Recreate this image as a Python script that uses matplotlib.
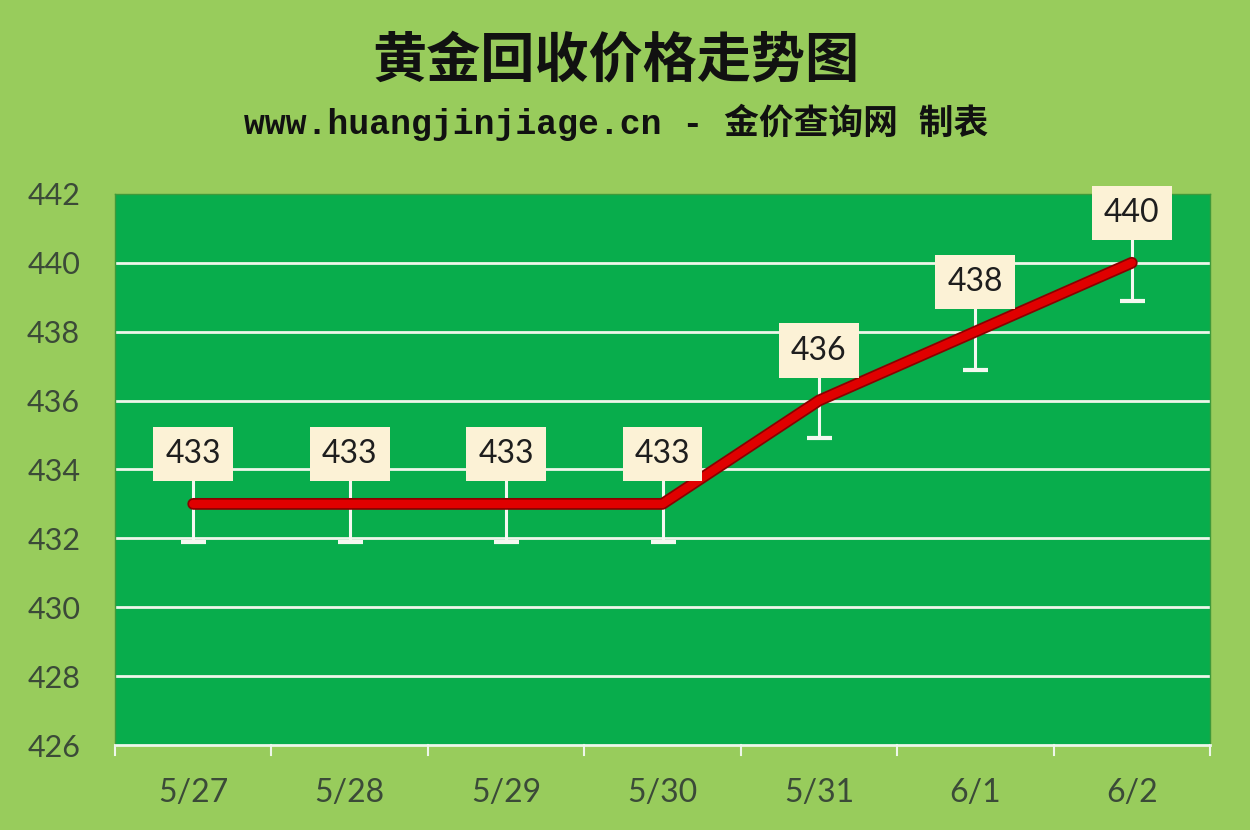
import numpy as np
import matplotlib.pyplot as plt

# data
dates = ['5/27', '5/28', '5/29', '5/30', '5/31', '6/1', '6/2']
prices = [433, 433, 433, 433, 436, 438, 440]
yticks = [426, 428, 430, 432, 434, 436, 438, 440, 442]

title = '黄金回收价格走势图'
subtitle = 'www.huangjinjiage.cn - 金价查询网 制表'

# colours
bg_outer = '#98cc5c'
bg_plot = '#08ad4c'
txt_col = '#3b4a38'

fig = plt.figure(figsize=(12.5, 8.3), dpi=100)
fig.patch.set_facecolor(bg_outer)
ax = fig.add_axes([0.092, 0.1024, 0.876, 0.664])
ax.set_facecolor(bg_plot)

x = np.arange(len(dates))

# grid lines
for yv in yticks[1:-1]:
    ax.axhline(yv, color='#eef6ea', lw=2.0, zorder=1)

# error bars (white T under each label)
ax.errorbar(x, prices, yerr=[[1.1] * len(x), [1.0] * len(x)], fmt='none',
            ecolor='#f4f8f0', elinewidth=2.2, capsize=9, capthick=3, zorder=2)

# price line
ax.plot(x, prices, color='#8a0000', lw=8.5, solid_capstyle='round',
        solid_joinstyle='round', zorder=3)
ax.plot(x, prices, color='#e00000', lw=6, solid_capstyle='round',
        solid_joinstyle='round', zorder=4)

# value labels
for xi, p in zip(x, prices):
    ax.text(xi, p + 1.45, str(p), ha='center', va='center', fontsize=23,
            family='Lato', color='#1e1e1e', zorder=6,
            bbox=dict(boxstyle='square,pad=0.38', fc='#fcf2d6', ec='none'))

ax.set_xlim(-0.5, len(dates) - 0.5)
ax.set_ylim(426, 442)
ax.set_yticks(yticks)
ax.set_yticklabels([str(v) for v in yticks], family='Lato', fontsize=22,
                   color=txt_col)
ax.set_xticks(x)
ax.set_xticklabels(dates, family='Lato', fontsize=23, color=txt_col)
ax.tick_params(axis='y', length=0, pad=25)
ax.tick_params(axis='x', length=0, pad=24)

# category boundary ticks on the bottom axis
for b in np.arange(-0.5, len(dates), 1.0):
    ax.plot([b, b], [426, 425.7], color='#eef6ea', lw=1.5, clip_on=False)

for side in ['left', 'right', 'top']:
    ax.spines[side].set_color('#3e9a3a')
    ax.spines[side].set_linewidth(1)
ax.spines['bottom'].set_color('#eef6ea')
ax.spines['bottom'].set_linewidth(2)

fig.text(0.493, 0.926, title, ha='center', va='center', fontsize=39,
         fontweight='bold', family=['Noto Sans CJK SC', 'DejaVu Sans'],
         color='#111111')
fig.text(0.493, 0.853, subtitle, ha='center', va='center', fontsize=25,
         fontweight='bold', family=['Liberation Mono', 'Noto Sans CJK SC'],
         color='#111111')

fig.savefig('out.png', dpi=100, facecolor=fig.get_facecolor())
